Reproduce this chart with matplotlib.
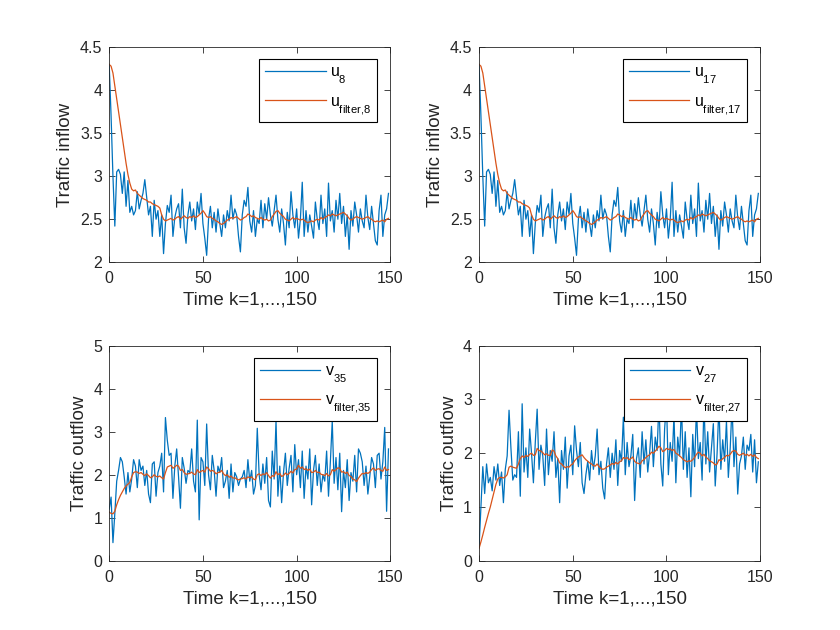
import numpy as np
import matplotlib
matplotlib.use('Agg')
import matplotlib.pyplot as plt
import matplotlib._mathtext as mathtext_internal

plt.rcParams['font.family'] = ['Liberation Sans', 'DejaVu Sans']
plt.rcParams['mathtext.fontset'] = 'custom'
plt.rcParams['mathtext.rm'] = 'Liberation Sans'
plt.rcParams['mathtext.it'] = 'Liberation Sans'
# MATLAB drops subscripts lower than mathtext does
mathtext_internal.FontConstantsBase.sub1 = 0.8

k = np.arange(150)

# inflow at node 8 (node 17 shows the same trace)
u8 = [4.30, 3.70, 3.00, 2.42, 3.05, 3.08, 3.02, 2.80, 3.05, 2.65,
      2.95, 2.58, 2.65, 2.55, 2.60, 2.82, 2.62, 2.72, 2.80, 2.96,
      2.75, 2.55, 2.65, 2.30, 2.72, 2.50, 2.60, 2.30, 2.55, 2.10,
      2.45, 2.66, 2.58, 2.78, 2.30, 2.52, 2.62, 2.68, 2.40, 2.85,
      2.40, 2.22, 2.55, 2.70, 2.48, 2.62, 2.38, 2.70, 2.56, 2.80,
      2.45, 2.28, 2.08, 2.50, 2.65, 2.40, 2.58, 2.35, 2.62, 2.45,
      2.30, 2.55, 2.40, 2.60, 2.48, 2.78, 2.50, 2.62, 2.55, 2.30,
      2.12, 2.55, 2.72, 2.65, 2.87, 2.48, 2.35, 2.60, 2.30, 2.50,
      2.45, 2.72, 2.40, 2.68, 2.50, 2.75, 2.55, 2.42, 2.60, 2.78,
      2.50, 2.35, 2.62, 2.45, 2.20, 2.58, 2.40, 2.82, 2.55, 2.40,
      2.62, 2.28, 2.50, 2.93, 2.30, 2.60, 2.35, 2.55, 2.42, 2.28,
      2.70, 2.50, 2.38, 2.78, 2.45, 2.62, 2.30, 2.92, 2.48, 2.60,
      2.35, 2.72, 2.50, 2.80, 2.45, 2.65, 2.30, 2.55, 2.15, 2.60,
      2.42, 2.70, 2.55, 2.35, 2.62, 2.48, 2.40, 2.78, 2.52, 2.38,
      2.65, 2.45, 2.25, 2.20, 2.60, 2.78, 2.30, 2.55, 2.62, 2.80]
u8_filter = [4.30, 4.28, 4.20, 4.05, 3.90, 3.75, 3.60, 3.45, 3.30, 3.15,
             3.02, 2.92, 2.85, 2.83, 2.84, 2.80, 2.78, 2.76, 2.74, 2.73,
             2.72, 2.70, 2.70, 2.68, 2.67, 2.66, 2.65, 2.63, 2.55, 2.50,
             2.48, 2.49, 2.50, 2.51, 2.49, 2.50, 2.52, 2.53, 2.50, 2.52,
             2.54, 2.52, 2.51, 2.53, 2.52, 2.54, 2.52, 2.53, 2.55, 2.57,
             2.60, 2.57, 2.53, 2.52, 2.53, 2.51, 2.50, 2.48, 2.47, 2.45,
             2.44, 2.45, 2.47, 2.49, 2.50, 2.52, 2.51, 2.52, 2.53, 2.51,
             2.49, 2.50, 2.52, 2.53, 2.56, 2.55, 2.53, 2.54, 2.52, 2.51,
             2.50, 2.52, 2.50, 2.49, 2.50, 2.48, 2.49, 2.53, 2.56, 2.59,
             2.60, 2.57, 2.55, 2.53, 2.50, 2.49, 2.48, 2.50, 2.52, 2.50,
             2.51, 2.50, 2.49, 2.50, 2.49, 2.47, 2.46, 2.47, 2.48, 2.47,
             2.49, 2.50, 2.49, 2.52, 2.50, 2.52, 2.53, 2.55, 2.54, 2.56,
             2.55, 2.54, 2.55, 2.56, 2.57, 2.58, 2.56, 2.54, 2.51, 2.49,
             2.50, 2.52, 2.53, 2.52, 2.51, 2.50, 2.51, 2.52, 2.53, 2.51,
             2.50, 2.48, 2.47, 2.48, 2.47, 2.48, 2.49, 2.47, 2.50, 2.51]
u17 = list(u8)
u17_filter = list(u8_filter)

# outflow at node 35
v35 = [1.20, 1.48, 0.42, 1.10, 1.85, 2.10, 2.40, 2.30, 1.95, 1.55,
       2.05, 1.60, 1.90, 2.35, 2.20, 1.70, 2.35, 2.10, 2.20, 1.75,
       2.10, 1.55, 1.35, 2.25, 2.30, 1.50, 2.05, 2.20, 2.50, 1.60,
       3.33, 2.80, 2.45, 2.50, 1.45, 2.20, 2.60, 1.95, 1.22, 2.40,
       2.15, 1.80, 2.10, 2.05, 2.60, 1.85, 1.60, 3.27, 0.95, 2.40,
       2.30, 1.75, 3.18, 2.00, 1.65, 2.45, 2.10, 1.50, 2.20, 2.05,
       2.40, 1.70, 1.85, 2.10, 1.45, 2.25, 1.60, 2.05, 1.95, 1.75,
       1.90, 1.95, 2.10, 1.70, 2.35, 1.85, 2.10, 1.55, 1.75, 3.08,
       2.00, 1.65, 2.25, 1.80, 2.40, 1.40, 1.25, 2.55, 1.90, 3.26,
       1.50, 2.20, 1.35, 2.05, 2.50, 1.75, 2.15, 2.45, 1.60, 2.70,
       2.00, 2.35, 1.70, 2.55, 1.45, 2.20, 1.90, 2.60, 1.30, 2.10,
       2.45, 1.75, 2.25, 1.60, 2.00, 1.85, 2.55, 1.50, 2.30, 3.25,
       1.80, 2.40, 1.65, 2.50, 1.14, 2.10, 1.70, 2.35, 1.40, 2.05,
       1.85, 2.45, 1.60, 2.60, 2.50, 2.30, 1.75, 2.20, 1.55, 1.95,
       2.40, 2.25, 1.70, 2.45, 2.50, 1.90, 2.30, 3.10, 1.15, 2.60]
v35_filter = [1.13, 1.10, 1.09, 1.15, 1.30, 1.42, 1.52, 1.60, 1.68, 1.74,
              1.78, 1.82, 1.95, 2.05, 2.07, 2.06, 2.03, 2.05, 2.01, 1.98,
              2.02, 1.98, 1.93, 1.95, 2.00, 1.96, 1.95, 1.97, 1.93, 1.90,
              2.05, 2.18, 2.20, 2.22, 2.15, 2.18, 2.22, 2.20, 2.10, 2.12,
              2.05, 2.01, 2.02, 2.03, 2.06, 2.02, 2.00, 2.12, 2.05, 2.08,
              2.10, 2.06, 2.18, 2.14, 2.08, 2.10, 2.08, 2.02, 2.05, 2.06,
              2.10, 2.02, 1.98, 2.00, 1.94, 1.97, 1.92, 1.93, 1.90, 1.88,
              1.90, 1.91, 1.93, 1.90, 1.95, 1.93, 1.95, 1.90, 1.88, 2.00,
              2.02, 1.98, 2.02, 2.00, 2.05, 1.98, 1.92, 1.98, 1.96, 2.07,
              2.00, 2.03, 1.96, 1.98, 2.04, 2.00, 2.03, 2.08, 2.04, 2.12,
              2.13, 2.22, 2.15, 2.18, 2.12, 2.14, 2.10, 2.13, 2.05, 2.06,
              2.10, 2.05, 2.06, 2.01, 2.00, 1.98, 2.03, 1.97, 2.00, 2.12,
              2.08, 2.12, 2.16, 2.15, 2.06, 2.07, 2.03, 2.06, 1.98, 1.96,
              1.90, 1.88, 1.84, 1.92, 1.98, 2.03, 2.02, 2.05, 2.03, 2.06,
              2.12, 2.16, 2.10, 2.13, 2.14, 2.10, 2.08, 2.18, 2.10, 2.12]

# outflow at node 27
v27 = [0.25, 1.00, 1.75, 1.25, 1.80, 1.45, 1.55, 1.30, 1.75, 1.50,
       1.80, 1.40, 1.65, 1.08, 1.70, 1.95, 2.80, 2.10, 1.50, 1.60,
       1.55, 2.40, 1.20, 2.92, 1.65, 2.10, 1.55, 2.45, 2.00, 1.45,
       2.20, 2.82, 1.70, 2.15, 1.95, 1.40, 2.45, 1.60, 2.05, 1.85,
       2.40, 1.55, 1.90, 1.08, 2.05, 1.70, 2.30, 1.35, 1.95, 2.15,
       1.60, 2.51, 2.05, 1.75, 2.20, 1.45, 1.25, 1.60, 1.85, 1.50,
       2.05, 1.70, 1.95, 2.45, 1.60, 1.85, 1.35, 1.15, 1.80, 2.10,
       1.55, 2.00, 1.70, 2.25, 1.40, 2.05, 1.85, 2.67, 1.60, 2.20,
       1.75, 1.95, 2.35, 1.12, 1.90, 2.10, 1.55, 2.40, 1.80, 2.25,
       1.65, 2.00, 2.50, 1.75, 2.30, 2.05, 2.95, 1.80, 1.39, 2.45,
       2.95, 1.60, 2.20, 1.85, 2.70, 1.45, 2.30, 1.95, 2.90, 1.70,
       2.40, 1.55, 2.10, 1.19, 2.35, 1.75, 2.85, 1.90, 2.20, 1.50,
       2.95, 1.80, 2.40, 1.65, 2.10, 2.55, 1.39, 2.00, 2.90, 1.70,
       2.25, 1.85, 2.60, 1.55, 2.10, 2.90, 1.75, 2.30, 1.24, 1.80,
       1.95, 2.30, 1.70, 2.15, 2.05, 2.35, 1.65, 2.25, 1.45, 1.84]
v27_filter = [0.23, 0.35, 0.48, 0.62, 0.75, 0.88, 1.00, 1.14, 1.28, 1.42,
              1.52, 1.55, 1.55, 1.54, 1.56, 1.60, 1.74, 1.76, 1.74, 1.73,
              1.72, 1.80, 1.90, 1.95, 1.92, 1.96, 1.94, 1.98, 2.00, 1.96,
              1.97, 2.09, 2.05, 2.04, 2.01, 1.97, 1.99, 1.96, 1.96, 2.06,
              2.04, 1.95, 1.90, 1.82, 1.80, 1.76, 1.73, 1.75, 1.74, 1.78,
              1.80, 1.86, 1.90, 1.93, 1.95, 1.97, 1.92, 1.88, 1.85, 1.82,
              1.80, 1.77, 1.76, 1.80, 1.75, 1.72, 1.70, 1.71, 1.74, 1.76,
              1.78, 1.81, 1.79, 1.83, 1.80, 1.84, 1.86, 1.92, 1.90, 1.92,
              1.88, 1.90, 1.93, 1.85, 1.82, 1.81, 1.80, 1.86, 1.88, 1.92,
              1.95, 1.97, 2.02, 2.00, 2.04, 2.08, 2.13, 2.10, 2.03, 2.05,
              2.09, 2.07, 2.08, 2.05, 2.07, 2.00, 1.98, 1.95, 1.92, 1.88,
              1.86, 1.84, 1.86, 1.85, 1.88, 1.92, 1.98, 2.02, 2.00, 1.95,
              1.98, 1.93, 1.90, 1.86, 1.84, 1.82, 1.78, 1.80, 1.88, 1.86,
              1.90, 1.92, 1.96, 1.95, 1.98, 2.03, 2.05, 2.04, 1.98, 1.96,
              1.98, 2.00, 1.96, 1.98, 1.95, 1.98, 1.94, 1.97, 1.92, 1.90]

panels = [
    (u8, u8_filter, r'$u_{8}$', r'$u_{filter{,}8}$', 'Traffic inflow', [2, 4.5], np.arange(2, 4.51, 0.5)),
    (u17, u17_filter, r'$u_{17}$', r'$u_{filter{,}17}$', 'Traffic inflow', [2, 4.5], np.arange(2, 4.51, 0.5)),
    (v35, v35_filter, r'$v_{35}$', r'$v_{filter{,}35}$', 'Traffic outflow', [0, 5], np.arange(0, 6)),
    (v27, v27_filter, r'$v_{27}$', r'$v_{filter{,}27}$', 'Traffic outflow', [0, 4], np.arange(0, 5)),
]
positions = [[0.13, 0.5838, 0.3347, 0.3412], [0.5703, 0.5838, 0.3347, 0.3412],
             [0.13, 0.11, 0.3347, 0.3412], [0.5703, 0.11, 0.3347, 0.3412]]

ax_color = '#262626'
fig = plt.figure(figsize=(8.4, 6.3), dpi=100)

for pos, (raw, filt, lab1, lab2, ylab, ylim, yticks) in zip(positions, panels):
    ax = fig.add_axes(pos)
    ax.plot(k, raw, color='#0072BD', linewidth=0.9, label=lab1)
    ax.plot(k, filt, color='#D95319', linewidth=0.9, label=lab2)
    ax.set_xlim(0, 150)
    ax.set_ylim(ylim)
    ax.set_xticks([0, 50, 100, 150])
    ax.set_yticks(yticks)
    ax.set_yticklabels(['%g' % t for t in yticks])
    ax.tick_params(direction='in', top=True, right=True, labelsize=11.5,
                   colors=ax_color, length=4, width=0.6)
    ax.tick_params(axis='x', pad=6.5)
    ax.tick_params(axis='y', pad=5)
    for s in ax.spines.values():
        s.set_color(ax_color)
        s.set_linewidth(0.6)
    ax.set_xlabel('Time k=1,...,150', fontsize=13.5, color=ax_color, labelpad=4)
    ax.set_ylabel(ylab, fontsize=13.5, color=ax_color, labelpad=4)
    leg = ax.legend(loc='upper right', bbox_to_anchor=(0.952, 0.944), borderaxespad=0,
                    fontsize=11.5, handlelength=3.8, handletextpad=0.3,
                    fancybox=False, framealpha=1, edgecolor='black',
                    borderpad=0.35, labelspacing=0.5)
    leg.get_frame().set_linewidth(0.8)

fig.savefig('out.png', dpi=100)
